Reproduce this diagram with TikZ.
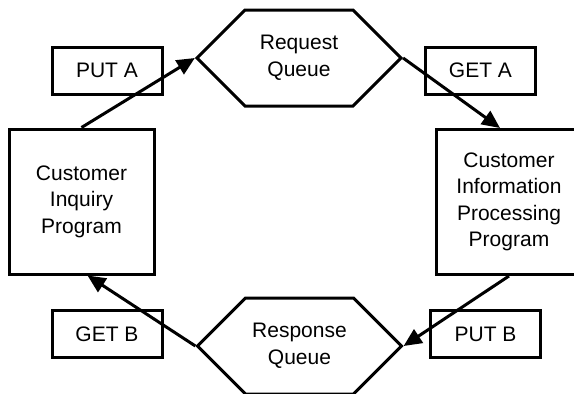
\documentclass[tikz,border=0pt]{standalone}
\usepackage{fontspec}
\setmainfont{Liberation Sans}
\usetikzlibrary{arrows.meta,shapes.symbols}

\begin{document}
\begin{tikzpicture}[x=1pt, y=-1pt,
  font=\fontsize{21}{26.5}\selectfont, line width=3pt,
  >={Triangle[length=18pt,width=16pt]},
  prog/.style={draw, minimum width=145pt, minimum height=145pt, align=center, inner sep=0pt},
  op/.style={draw, minimum width=110pt, minimum height=47pt, inner sep=0pt},
  queue/.style={draw, signal, signal to=east and west, signal pointer angle=90,
    minimum width=204pt, minimum height=96pt, align=center, inner sep=0pt},
  flow/.style={->}]
\useasboundingbox (0,0) rectangle (574,394);
\clip (0,0) rectangle (574,394);
% programs
\node[prog] (inq) at (81.5,201.5) {Customer\\Inquiry\\Program};
\node[prog] (info) at (509,202) {Customer\\Information\\Processing\\Program};
% queues
\node[queue] (req) at (299,58) {Request\\Queue};
\node[queue] (resp) at (299.5,346) {Response\\Queue};
% MQ calls
\node[op] (puta) at (107,70.5) {PUT A};
\node[op] (geta) at (480.5,70.5) {GET A};
\node[op] (getb) at (107,334) {GET B};
\node[op] (putb) at (485.5,334) {PUT B};
% message flow
\draw[flow] (inq.north) -- (req.west);
\draw[flow] (req.east) -- ([xshift=-9pt]info.north);
\draw[flow] (info.south) -- (resp.east);
\draw[flow] (resp.west) -- ([xshift=6pt]inq.south);
\end{tikzpicture}
\end{document}
